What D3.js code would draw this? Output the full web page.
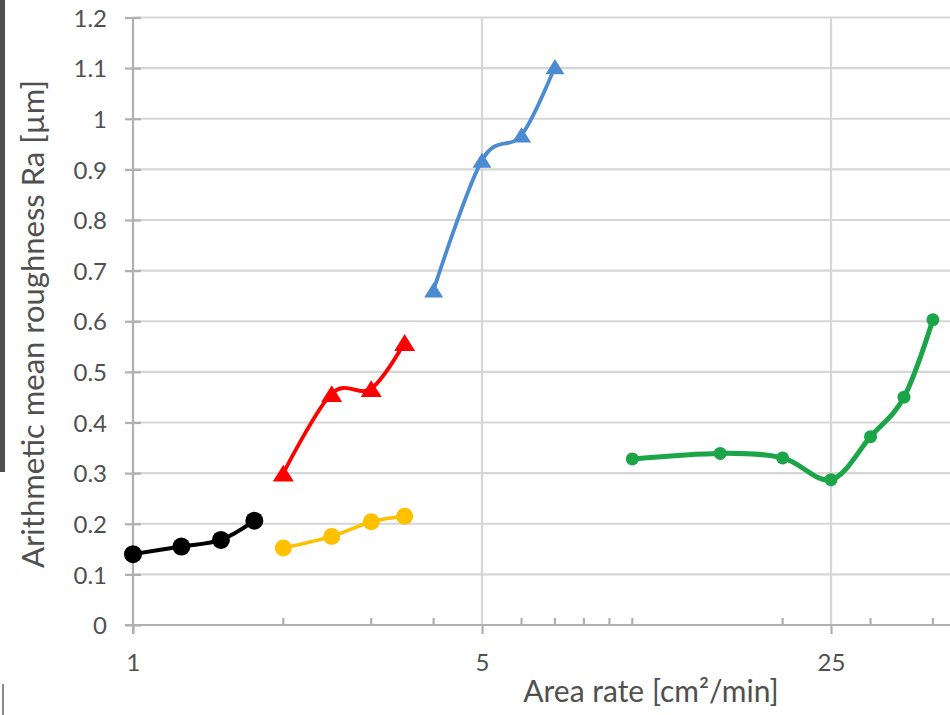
<!DOCTYPE html>
<html>
<head>
<meta charset="utf-8">
<script src="https://cdn.jsdelivr.net/npm/d3@7/dist/d3.min.js"></script>
<style>
  html, body { margin: 0; padding: 0; background: #fff; }
  svg { display: block; }
  text { font-family: Lato, "Open Sans", sans-serif; fill: #505050; }
</style>
</head>
<body>
<svg id="chart" width="950" height="715"></svg>
<script>
// Area rate [cm²/min] and arithmetic mean roughness Ra [µm] per series
const rateBlack  = [1, 1.25, 1.5, 1.75];
const raBlack    = [0.140, 0.155, 0.168, 0.206];
const rateYellow = [2, 2.5, 3, 3.5];
const raYellow   = [0.152, 0.175, 0.204, 0.215];
const rateRed    = [2, 2.5, 3, 3.5];
const raRed      = [0.300, 0.457, 0.467, 0.558];
const rateBlue   = [4, 5, 6, 7];
const raBlue     = [0.662, 0.918, 0.968, 1.103];
const rateGreen  = [10, 15, 20, 25, 30, 35, 40];
const raGreen    = [0.328, 0.339, 0.330, 0.287, 0.372, 0.450, 0.603];

// Axis ticks
const xMajorTicks = [1, 5, 25];
const xMinorTicks = [2, 3, 4, 6, 7, 8, 9, 10, 20, 30, 40];
const yTicks = d3.range(0, 13).map(i => i / 10);

const series = [
  { rate: rateBlack,  ra: raBlack,  color: "#000000", width: 4,   marker: "circle",   size: 9 },
  { rate: rateYellow, ra: raYellow, color: "#FFC000", width: 3.5, marker: "circle",   size: 8.5 },
  { rate: rateRed,    ra: raRed,    color: "#FF0000", width: 3.8, marker: "triangle", size: 21 },
  { rate: rateBlue,   ra: raBlue,   color: "#4A8BD2", width: 3.8, marker: "triangle", size: 19 },
  { rate: rateGreen,  ra: raGreen,  color: "#1BA548", width: 5,   marker: "circle",   size: 6.5 }
];

const svg = d3.select("#chart");
const W = 950, H = 715;
const plotLeft = 133, plotTop = 17.5, plotBottom = 625, plotRight = W;

// Log x axis: 1 → 25 spans 133 → 831
const x = d3.scaleLog().domain([1, 25]).range([plotLeft, 831]);
const y = d3.scaleLinear().domain([0, 1.2]).range([plotBottom, plotTop]);

// Edge strips of the scanned figure
svg.append("rect").attr("x", 0).attr("y", 0).attr("width", 5).attr("height", 472).attr("fill", "#4f4f4f");
svg.append("rect").attr("x", 2).attr("y", 684).attr("width", 2).attr("height", 31).attr("fill", "#8a8a8a");

// Horizontal gridlines
svg.append("g").selectAll("line").data(yTicks.filter(d => d > 0)).join("line")
  .attr("x1", plotLeft).attr("x2", plotRight)
  .attr("y1", d => y(d)).attr("y2", d => y(d))
  .attr("stroke", "#d6d6d6").attr("stroke-width", 2.2);

// Vertical gridlines at major x ticks
svg.append("g").selectAll("line").data(xMajorTicks.filter(d => d > 1)).join("line")
  .attr("x1", d => x(d)).attr("x2", d => x(d))
  .attr("y1", plotTop).attr("y2", plotBottom)
  .attr("stroke", "#d6d6d6").attr("stroke-width", 2.2);

// Y axis
const yAxis = svg.append("g").attr("transform", `translate(${plotLeft},0)`)
  .call(d3.axisLeft(y).tickValues(yTicks).tickFormat(d => d === 0 ? "0" : d3.format("~g")(d)).tickSize(8).tickPadding(18));
yAxis.select(".domain").remove();
yAxis.selectAll(".tick line").attr("stroke", "#b0b0b0").attr("stroke-width", 2.2).attr("x2", -8).attr("x1", 8);
yAxis.selectAll(".tick text").attr("font-size", 24).attr("dy", "0.36em").style("fill", "#505050");
svg.append("line").attr("x1", plotLeft).attr("x2", plotLeft).attr("y1", plotTop).attr("y2", plotBottom + 9)
  .attr("stroke", "#b0b0b0").attr("stroke-width", 2.2);

// X axis
svg.append("line").attr("x1", plotLeft - 8).attr("x2", plotRight).attr("y1", plotBottom).attr("y2", plotBottom)
  .attr("stroke", "#b0b0b0").attr("stroke-width", 2.2);
const xAxis = svg.append("g").attr("transform", `translate(0,${plotBottom})`)
  .call(d3.axisBottom(x).tickValues(xMajorTicks).tickFormat(d3.format("d")).tickSize(9).tickPadding(20));
xAxis.select(".domain").remove();
xAxis.selectAll(".tick line").attr("stroke", "#b0b0b0").attr("stroke-width", 2.2);
xAxis.selectAll(".tick text").attr("font-size", 24).style("fill", "#505050");
svg.append("g").selectAll("line").data(xMinorTicks).join("line")
  .attr("x1", d => x(d)).attr("x2", d => x(d))
  .attr("y1", plotBottom).attr("y2", plotBottom - 7)
  .attr("stroke", "#b0b0b0").attr("stroke-width", 2.2);

// Axis titles
svg.append("text").attr("x", 651).attr("y", 702).attr("text-anchor", "middle")
  .attr("font-size", 30).text("Area rate [cm²/min]");
svg.append("text").attr("transform", "translate(44,324) rotate(-90)").attr("text-anchor", "middle")
  .attr("font-size", 31).text("Arithmetic mean roughness Ra [µm]");

// Series: smoothed lines with markers
const line = d3.line().x(d => x(d[0])).y(d => y(d[1])).curve(d3.curveCatmullRom.alpha(0));
const plot = svg.append("g");
series.forEach(s => {
  const pts = s.rate.map((r, i) => [r, s.ra[i]]);
  plot.append("path").datum(pts).attr("d", line)
    .attr("fill", "none").attr("stroke", s.color).attr("stroke-width", s.width)
    .attr("stroke-linejoin", "round").attr("stroke-linecap", "round");
  const g = plot.append("g");
  if (s.marker === "circle") {
    g.selectAll("circle").data(pts).join("circle")
      .attr("cx", d => x(d[0])).attr("cy", d => y(d[1])).attr("r", s.size)
      .attr("fill", s.color);
  } else {
    const side = s.size, h = side * 0.8;
    g.selectAll("path").data(pts).join("path")
      .attr("transform", d => `translate(${x(d[0])},${y(d[1])})`)
      .attr("d", `M0,${-h / 2}L${side / 2},${h / 2}L${-side / 2},${h / 2}Z`)
      .attr("fill", s.color);
  }
});
</script>
</body>
</html>
